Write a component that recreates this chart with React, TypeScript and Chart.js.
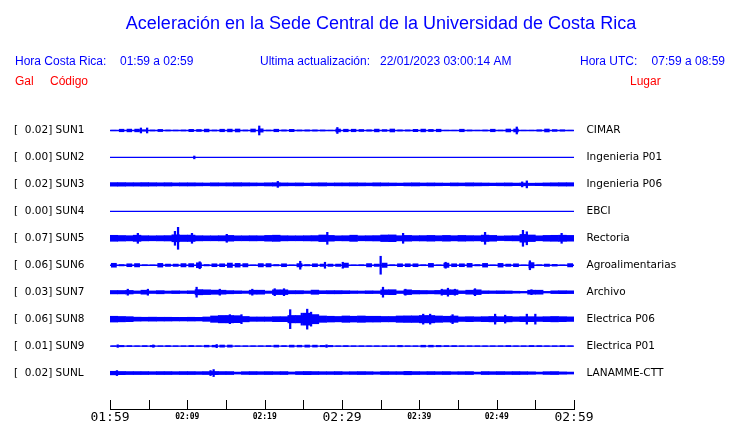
import React, { useEffect, useRef } from 'react';
import { Chart, registerables } from 'chart.js';

Chart.register(...registerables);

const BLUE = 'rgb(0,0,255)';
const RED = 'rgb(255,0,0)';

const chartTitle = 'Aceleración en la Sede Central de la Universidad de Costa Rica';
const headerLocal = ['Hora Costa Rica:', '01:59 a 02:59'];
const headerUpdate = ['Ultima actualización:', '22/01/2023 03:00:14 AM'];
const headerUtc = ['Hora UTC:', '07:59 a 08:59'];
const columnHeads = ['Gal', 'Código', 'Lugar'];

const stations = ['SUN1', 'SUN2', 'SUN3', 'SUN4', 'SUN5', 'SUN6', 'SUN7', 'SUN8', 'SUN9', 'SUNL'];
const peakGal = [0.02, 0.0, 0.02, 0.0, 0.07, 0.06, 0.03, 0.06, 0.01, 0.02];
const places = ['CIMAR', 'Ingenieria P01', 'Ingenieria P06', 'EBCI', 'Rectoria', 'Agroalimentarias', 'Archivo', 'Electrica P06', 'Electrica P01', 'LANAMME-CTT'];

const xTickMinutes = [0, 10, 20, 30, 40, 50, 60];
const xTickLabels = ['01:59', '02:09', '02:19', '02:29', '02:39', '02:49', '02:59'];
const xMajorLabels = ['01:59', '02:29', '02:59'];

// Half-amplitude envelope of each trace, one value per minute (01:59 -> 02:59)
const envSUN1 = [0.6, 1.6, 1.7, 1.7, 1.0, 0.8, 1.4, 0.8, 0.7, 0.8, 1.5, 1.3, 1.7, 0.8, 1.6, 1.7, 1.8, 0.8, 1.8, 2.0, 0.7, 1.6, 0.9, 1.5, 0.8, 0.9, 0.9, 0.8, 0.6, 1.8, 1.6, 1.6, 1.3, 1.0, 1.7, 1.2, 1.8, 0.9, 0.9, 1.5, 1.7, 1.4, 1.6, 0.6, 0.6, 1.6, 0.8, 0.6, 0.8, 1.6, 0.7, 1.8, 1.8, 0.6, 0.6, 1.0, 1.8, 1.2, 1.0, 0.6];
const envSUN2: number[] = [];
const envSUN3 = [1.8, 1.8, 1.7, 1.7, 1.8, 1.7, 1.6, 1.7, 1.5, 1.6, 1.6, 1.5, 1.4, 1.6, 1.5, 1.6, 1.7, 1.6, 1.5, 1.4, 1.6, 1.7, 1.5, 1.4, 1.5, 1.3, 1.5, 1.6, 1.4, 1.5, 1.5, 1.6, 1.5, 1.4, 1.6, 1.5, 1.4, 1.3, 1.5, 1.6, 1.4, 1.5, 1.4, 1.3, 1.5, 1.4, 1.6, 1.5, 1.4, 1.3, 1.4, 1.5, 1.3, 1.4, 1.2, 1.3, 1.5, 1.6, 1.7, 1.7];
const envSUN4: number[] = [];
const envSUN5 = [3.0, 2.8, 2.6, 3.1, 2.6, 2.5, 2.6, 2.7, 3.5, 3.2, 3.2, 2.6, 2.5, 2.5, 2.6, 2.9, 2.5, 2.5, 2.6, 2.5, 2.9, 3.1, 2.6, 2.5, 2.5, 2.6, 2.7, 3.3, 2.9, 2.5, 2.6, 3.1, 2.5, 2.6, 2.7, 3.3, 3.4, 2.6, 2.9, 2.6, 2.7, 2.9, 2.6, 2.9, 2.6, 2.9, 2.7, 2.6, 3.2, 2.9, 2.3, 2.5, 2.6, 3.9, 3.3, 2.5, 2.9, 3.0, 3.1, 2.9];
const envSUN6 = [2.3, 1.0, 1.8, 2.0, 0.8, 0.6, 2.2, 1.5, 1.5, 2.0, 2.0, 2.8, 1.0, 1.8, 1.8, 2.5, 2.2, 2.0, 0.6, 2.0, 2.0, 1.0, 1.8, 0.6, 2.0, 1.0, 1.8, 1.5, 1.5, 1.5, 2.5, 0.6, 0.8, 2.0, 1.5, 2.5, 0.8, 1.8, 1.8, 1.8, 0.8, 2.2, 0.6, 2.5, 1.8, 1.8, 2.2, 1.0, 2.2, 0.6, 2.2, 1.5, 1.8, 0.6, 3.0, 0.8, 1.5, 1.2, 0.6, 2.0];
const envSUN7 = [1.7, 1.7, 1.8, 1.3, 2.0, 1.3, 1.6, 1.2, 1.4, 1.2, 1.4, 2.6, 2.4, 2.1, 2.0, 1.6, 1.4, 1.2, 2.0, 2.0, 1.2, 2.4, 2.4, 1.6, 1.6, 1.3, 2.1, 1.5, 1.6, 1.6, 1.5, 1.3, 1.2, 1.4, 1.3, 2.4, 2.5, 1.3, 2.4, 1.8, 1.7, 1.6, 1.8, 2.4, 2.4, 1.4, 2.0, 2.4, 1.4, 1.3, 1.4, 1.3, 1.0, 0.8, 2.0, 2.0, 0.8, 1.4, 1.5, 1.4];
const envSUN8 = [2.9, 2.7, 2.5, 2.0, 1.9, 2.0, 1.9, 1.9, 1.8, 1.8, 1.9, 1.8, 2.2, 3.2, 3.7, 3.7, 3.5, 2.7, 2.2, 2.2, 2.2, 2.5, 2.5, 3.7, 3.7, 6.0, 4.6, 3.2, 2.9, 2.7, 3.2, 2.9, 3.2, 2.9, 2.9, 2.7, 2.7, 3.2, 3.3, 3.3, 3.7, 3.7, 3.2, 2.9, 3.2, 2.3, 2.5, 2.3, 2.5, 2.7, 2.5, 2.7, 2.3, 2.5, 2.5, 2.3, 2.5, 2.7, 2.5, 2.3];
const envSUN9 = [0.6, 1.0, 0.8, 0.6, 0.8, 1.0, 0.6, 0.8, 0.6, 0.6, 0.9, 0.6, 1.2, 1.2, 1.4, 1.4, 0.6, 0.6, 0.6, 0.6, 0.8, 1.3, 0.8, 1.3, 1.2, 1.4, 1.3, 1.0, 1.0, 0.6, 0.8, 0.6, 0.6, 0.6, 0.6, 0.6, 0.6, 1.0, 0.6, 0.6, 1.2, 1.2, 1.0, 0.8, 0.8, 0.6, 0.6, 0.6, 0.6, 0.6, 0.6, 0.9, 0.6, 0.6, 0.9, 0.8, 0.6, 0.6, 0.8, 0.6];
const envSUNL = [1.8, 1.6, 1.5, 1.5, 1.5, 1.4, 1.5, 1.5, 1.4, 1.5, 1.5, 1.4, 1.5, 1.6, 1.5, 1.5, 1.0, 1.4, 1.5, 1.4, 1.5, 1.4, 1.5, 1.1, 1.5, 1.6, 1.5, 1.4, 1.4, 1.5, 1.3, 1.4, 1.5, 1.4, 1.2, 1.5, 1.4, 1.4, 1.7, 1.5, 1.4, 1.5, 1.4, 1.5, 1.3, 1.4, 1.5, 1.0, 1.5, 1.4, 1.5, 1.4, 1.5, 1.4, 1.3, 1.0, 1.4, 1.5, 1.2, 1.0];

// Short peaks: [minute, half-amplitude]
const spkSUN1 = [[4.0, 2.5], [4.8, 2.5], [19.3, 4.5], [29.4, 3.0], [52.6, 3.5]];
const spkSUN2 = [[10.9, 1.4]];
const spkSUN3 = [[21.7, 3.0], [53.3, 2.5], [53.9, 3.5]];
const spkSUN4: number[][] = [];
const spkSUN5 = [[3.6, 5], [8.4, 7], [8.8, 11], [10.6, 5], [15.1, 4], [28.1, 6], [37.9, 5], [48.5, 6], [53.4, 8], [53.9, 6.5], [58.4, 5]];
const spkSUN6 = [[11.6, 3.5], [24.6, 4], [27.8, 3], [30.1, 3], [35.0, 9], [43.4, 3], [54.3, 4.5]];
const spkSUN7 = [[2.3, 3], [4.9, 3], [11.2, 5], [14.2, 3], [18.4, 3], [21.3, 3.5], [22.5, 3.5], [35.3, 5], [38.2, 3], [42.9, 3], [43.7, 4], [44.6, 3], [47.2, 3.5], [54.5, 2.5]];
const spkSUN8 = [[15.5, 4.5], [17.0, 4.5], [23.3, 9.5], [24.8, 6], [25.5, 10], [26.0, 7], [40.5, 5], [41.4, 5], [44.3, 4.5], [49.8, 5], [51.1, 4], [53.9, 5], [55.0, 5]];
const spkSUN9 = [[1.0, 1.3], [5.6, 1.2], [13.8, 1.6], [28.0, 1.3]];
const spkSUNL = [[0.9, 2.5], [13.0, 2.5], [13.4, 3.5]];

const envelopes = [envSUN1, envSUN2, envSUN3, envSUN4, envSUN5, envSUN6, envSUN7, envSUN8, envSUN9, envSUNL];
const spikes = [spkSUN1, spkSUN2, spkSUN3, spkSUN4, spkSUN5, spkSUN6, spkSUN7, spkSUN8, spkSUN9, spkSUNL];
const blockFill = [0.7, 1, 1, 1, 1, 0.75, 1, 1, 0.7, 1];

const ROW = 27;
const centerOf = (i: number) => (stations.length - 1 - i) * ROW;
const centers = stations.map((_, i) => centerOf(i));

const headerPlugin = {
  id: 'header',
  afterDraw(chart: any) {
    const ctx = chart.ctx;
    ctx.save();
    ctx.textBaseline = 'alphabetic';
    ctx.fillStyle = BLUE;
    ctx.textAlign = 'center';
    ctx.font = '18px "Liberation Sans", Arial, sans-serif';
    ctx.fillText(chartTitle, 381, 29);
    ctx.textAlign = 'left';
    ctx.font = '12px "Liberation Sans", Arial, sans-serif';
    ctx.fillText(headerLocal[0], 15, 65);
    ctx.fillText(headerLocal[1], 120, 65);
    ctx.fillText(headerUpdate[0], 260, 65);
    ctx.fillText(headerUpdate[1], 380, 65);
    ctx.fillText(headerUtc[0], 580, 65);
    ctx.textAlign = 'right';
    ctx.fillText(headerUtc[1], 725, 65);
    ctx.textAlign = 'left';
    ctx.fillStyle = RED;
    ctx.fillText(columnHeads[0], 15, 85);
    ctx.fillText(columnHeads[1], 50, 85);
    ctx.fillText(columnHeads[2], 630, 85);
    // upward tick marks on the time axis
    const xs = chart.scales.x;
    ctx.strokeStyle = '#000';
    ctx.lineWidth = 1;
    xs.ticks.forEach((t: any) => {
      const px = Math.round(xs.getPixelForValue(t.value)) + 0.5;
      ctx.beginPath();
      ctx.moveTo(px, xs.top);
      ctx.lineTo(px, xs.top - 9);
      ctx.stroke();
    });
    ctx.restore();
  },
};

export default function App() {
  const ref = useRef<HTMLCanvasElement | null>(null);
  useEffect(() => {
    if (!ref.current) return;
    const datasets: any[] = [];
    stations.forEach((_, i) => {
      const c = centerOf(i);
      datasets.push({
        type: 'line',
        data: [{ x: 0, y: c }, { x: 60, y: c }],
        borderColor: BLUE,
        borderWidth: 1.3,
        pointRadius: 0,
        xAxisID: 'x',
        yAxisID: 'y',
      });
      if (envelopes[i].length) {
        datasets.push({
          type: 'bar',
          data: envelopes[i].map((a, k) => ({ x: k + 0.5, y: [c - a, c + a] })),
          backgroundColor: BLUE,
          borderWidth: 0,
          grouped: false,
          barPercentage: blockFill[i],
          categoryPercentage: 1,
          xAxisID: 'x',
          yAxisID: 'y',
        });
      }
      if (spikes[i].length) {
        datasets.push({
          type: 'bar',
          data: spikes[i].map(([t, a]) => ({ x: t, y: [c - a, c + a] })),
          backgroundColor: BLUE,
          borderWidth: 0,
          grouped: false,
          barThickness: 1.6,
          xAxisID: 'xs',
          yAxisID: 'y',
        });
      }
    });

    const noPad = (s: any) => { s.paddingTop = 0; s.paddingBottom = 0; };

    const chart = new Chart(ref.current, {
      type: 'bar',
      data: { datasets },
      options: {
        animation: false,
        responsive: false,
        events: [],
        layout: { padding: { left: 14, right: 0, top: 117, bottom: 0 } },
        plugins: { legend: { display: false }, tooltip: { enabled: false }, title: { display: false } },
        scales: {
          x: {
            type: 'linear',
            position: 'bottom',
            min: 0,
            max: 60,
            offset: false,
            grid: { display: false, drawTicks: false, offset: false },
            border: { display: true, color: '#000', width: 1 },
            afterFit: (s: any) => { s.height = 14; },
            ticks: {
              stepSize: 5,
              autoSkip: false,
              maxRotation: 0,
              padding: 0,
              color: '#000',
              callback: (v: any) => {
                const k = xTickMinutes.indexOf(Number(v));
                return k >= 0 ? xTickLabels[k] : '';
              },
              font: (c: any) => {
                const k = xTickMinutes.indexOf(c.tick ? c.tick.value : -1);
                const lab = k >= 0 ? xTickLabels[k] : '';
                return xMajorLabels.includes(lab)
                  ? { family: '"DejaVu Sans Mono", monospace', size: 13, lineHeight: 17.5 / 13 }
                  : { family: '"DejaVu Sans Mono", monospace', size: 8, weight: 'bold', lineHeight: 2.0 };
              },
            },
          },
          xs: {
            type: 'linear',
            display: false,
            min: 0,
            max: 60,
            offset: false,
            grid: { offset: false },
          },
          y: {
            type: 'linear',
            position: 'left',
            min: -36,
            max: 256.5,
            grid: { display: false, drawTicks: false },
            border: { display: false },
            afterFit: (s: any) => { s.width = 96; noPad(s); },
            afterBuildTicks: (s: any) => { s.ticks = centers.map((v) => ({ value: v })); },
            ticks: {
              crossAlign: 'far',
              padding: 0,
              color: '#000',
              font: { family: '"DejaVu Sans", sans-serif', size: 10.5 },
              callback: (v: any) => {
                const i = centers.indexOf(Number(v));
                return i >= 0 ? `[  ${peakGal[i].toFixed(2)}] ${stations[i]}` : '';
              },
            },
          },
          y2: {
            type: 'linear',
            position: 'right',
            min: -36,
            max: 256.5,
            grid: { display: false, drawTicks: false },
            border: { display: false },
            afterFit: (s: any) => { s.width = 166; noPad(s); },
            afterBuildTicks: (s: any) => { s.ticks = centers.map((v) => ({ value: v })); },
            ticks: {
              crossAlign: 'near',
              padding: 12.5,
              color: '#000',
              font: { family: '"DejaVu Sans", sans-serif', size: 10.5 },
              callback: (v: any) => {
                const i = centers.indexOf(Number(v));
                return i >= 0 ? places[i] : '';
              },
            },
          },
        },
      } as any,
      plugins: [headerPlugin],
    });
    return () => chart.destroy();
  }, []);

  return (
    <div style={{ position: 'absolute', left: 0, top: 0, width: 740, height: 423, background: '#fff' }}>
      <canvas ref={ref} width={740} height={423} style={{ width: 740, height: 423, display: 'block' }} />
    </div>
  );
}
